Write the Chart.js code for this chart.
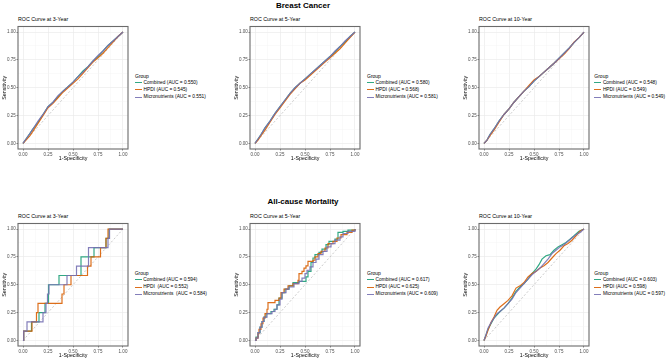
<!DOCTYPE html>
<html><head><meta charset="utf-8">
<script src="https://cdn.jsdelivr.net/npm/chart.js@4.4.1/dist/chart.umd.min.js"></script>
<style>
html,body{margin:0;padding:0;background:#fff;width:669px;height:360px;overflow:hidden;position:relative;font-family:"Liberation Sans",Arial,Helvetica,sans-serif;}
canvas{position:absolute;}
.t{position:absolute;white-space:pre;line-height:1;color:#000;}
.main{font-weight:bold;font-size:8px;transform:translate(-50%,-50%);}
.sub{font-size:5.3px;transform:translateY(-50%);}
.lg{font-size:4.8px;transform:translateY(-50%);}
.lgt{font-size:5px;transform:translateY(-50%);}
.key{position:absolute;height:1.2px;width:7px;}
</style></head><body>
<script>
// ---------- data ----------
const groups = ['Combined', 'HPDI', 'Micronutrients'];
const tickValues = [0, 0.25, 0.5, 0.75, 1];
const tickLabels = ['0.00', '0.25', '0.50', '0.75', '1.00'];
const gridValues = [0, 0.125, 0.25, 0.375, 0.5, 0.625, 0.75, 0.875, 1];
const diagonal = [[0, 0], [1, 1]];

// Breast cancer
const aucBC3 = ['0.550', '0.545', '0.551'];
const aucBC5 = ['0.580', '0.568', '0.581'];
const aucBC10 = ['0.548', '0.549', '0.549'];
// All-cause mortality
const aucAM3 = ['0.594', '0.552', '0.584'];
const aucAM5 = ['0.617', '0.625', '0.609'];
const aucAM10 = ['0.603', '0.598', '0.597'];

const bc3Combined = [[0,0],[0.03,0.04],[0.07,0.09],[0.1,0.13],[0.15,0.19],[0.2,0.26],[0.25,0.33],[0.3,0.37],[0.35,0.42],[0.4,0.47],[0.45,0.51],[0.5,0.55],[0.55,0.6],[0.6,0.65],[0.65,0.69],[0.7,0.74],[0.75,0.78],[0.8,0.83],[0.85,0.88],[0.9,0.92],[0.95,0.96],[1,1]];
const bc3HPDI = [[0,0],[0.03,0.03],[0.07,0.07],[0.1,0.11],[0.15,0.18],[0.2,0.25],[0.25,0.32],[0.3,0.36],[0.35,0.41],[0.4,0.46],[0.45,0.5],[0.5,0.54],[0.55,0.58],[0.6,0.63],[0.65,0.68],[0.7,0.73],[0.75,0.77],[0.8,0.81],[0.85,0.86],[0.9,0.91],[0.95,0.96],[1,1]];
const bc3Micro = [[0,0],[0.03,0.04],[0.07,0.09],[0.1,0.13],[0.15,0.2],[0.2,0.26],[0.25,0.33],[0.3,0.37],[0.35,0.43],[0.4,0.47],[0.45,0.51],[0.5,0.55],[0.55,0.6],[0.6,0.64],[0.65,0.69],[0.7,0.74],[0.75,0.79],[0.8,0.83],[0.85,0.88],[0.9,0.92],[0.95,0.96],[1,1]];

const bc5Combined = [[0,0],[0.03,0.04],[0.06,0.08],[0.1,0.14],[0.15,0.2],[0.2,0.27],[0.25,0.33],[0.3,0.39],[0.35,0.45],[0.4,0.5],[0.45,0.54],[0.5,0.58],[0.55,0.62],[0.6,0.66],[0.65,0.7],[0.7,0.74],[0.75,0.78],[0.8,0.82],[0.85,0.87],[0.9,0.91],[0.95,0.96],[1,1]];
const bc5HPDI = [[0,0],[0.03,0.03],[0.06,0.07],[0.1,0.12],[0.15,0.19],[0.2,0.26],[0.25,0.32],[0.3,0.38],[0.35,0.44],[0.4,0.49],[0.45,0.54],[0.5,0.57],[0.55,0.61],[0.6,0.65],[0.65,0.69],[0.7,0.73],[0.75,0.77],[0.8,0.81],[0.85,0.85],[0.9,0.9],[0.95,0.95],[1,1]];
const bc5Micro = [[0,0],[0.03,0.04],[0.06,0.08],[0.1,0.14],[0.15,0.2],[0.2,0.27],[0.25,0.33],[0.3,0.39],[0.35,0.45],[0.4,0.5],[0.45,0.54],[0.5,0.58],[0.55,0.62],[0.6,0.66],[0.65,0.7],[0.7,0.74],[0.75,0.78],[0.8,0.83],[0.85,0.87],[0.9,0.92],[0.95,0.96],[1,1]];

const bc10Combined = [[0,0],[0.03,0.03],[0.06,0.08],[0.1,0.13],[0.15,0.2],[0.2,0.26],[0.25,0.31],[0.3,0.37],[0.35,0.42],[0.4,0.47],[0.45,0.51],[0.5,0.56],[0.55,0.6],[0.6,0.64],[0.65,0.68],[0.7,0.72],[0.75,0.765],[0.8,0.81],[0.85,0.855],[0.9,0.905],[0.95,0.95],[1,1]];
const bc10HPDI = [[0,0],[0.03,0.03],[0.06,0.07],[0.1,0.12],[0.15,0.19],[0.2,0.26],[0.25,0.31],[0.3,0.37],[0.35,0.42],[0.4,0.47],[0.45,0.52],[0.5,0.57],[0.55,0.6],[0.6,0.64],[0.65,0.68],[0.7,0.72],[0.75,0.76],[0.8,0.8],[0.85,0.85],[0.9,0.91],[0.95,0.95],[1,1]];
const bc10Micro = [[0,0],[0.03,0.03],[0.06,0.08],[0.1,0.13],[0.15,0.2],[0.2,0.26],[0.25,0.31],[0.3,0.37],[0.35,0.42],[0.4,0.47],[0.45,0.51],[0.5,0.56],[0.55,0.6],[0.6,0.64],[0.65,0.68],[0.7,0.72],[0.75,0.765],[0.8,0.81],[0.85,0.855],[0.9,0.905],[0.95,0.95],[1,1]];

const am3Combined = [[0,0],[0.007,0.083],[0.085,0.167],[0.16,0.25],[0.22,0.333],[0.255,0.5],[0.36,0.583],[0.58,0.75],[0.71,0.833],[0.83,0.917],[0.86,1],[1,1]];
const am3HPDI = [[0,0],[0.007,0.083],[0.09,0.167],[0.135,0.25],[0.15,0.333],[0.39,0.417],[0.41,0.5],[0.48,0.583],[0.645,0.667],[0.68,0.75],[0.775,0.833],[0.83,0.917],[0.85,1],[1,1]];
const am3Micro = [[0,0],[0.007,0.083],[0.04,0.167],[0.2,0.25],[0.23,0.333],[0.245,0.417],[0.26,0.5],[0.44,0.583],[0.535,0.667],[0.655,0.833],[0.85,0.917],[0.865,1],[1,1]];

const am5Combined = [[0,0],[0.01,0.03],[0.03,0.07],[0.05,0.12],[0.07,0.17],[0.09,0.21],[0.11,0.24],[0.16,0.26],[0.19,0.28],[0.22,0.32],[0.24,0.38],[0.27,0.43],[0.3,0.46],[0.34,0.49],[0.38,0.52],[0.44,0.53],[0.48,0.53],[0.51,0.57],[0.53,0.62],[0.56,0.7],[0.58,0.74],[0.6,0.77],[0.64,0.79],[0.67,0.82],[0.71,0.86],[0.74,0.89],[0.8,0.91],[0.83,0.97],[0.88,0.98],[0.93,0.99],[1,1]];
const am5HPDI = [[0,0],[0.01,0.02],[0.03,0.06],[0.04,0.1],[0.06,0.15],[0.08,0.2],[0.1,0.24],[0.12,0.28],[0.13,0.34],[0.2,0.36],[0.24,0.38],[0.26,0.43],[0.29,0.46],[0.33,0.49],[0.38,0.51],[0.43,0.54],[0.44,0.6],[0.47,0.62],[0.49,0.65],[0.51,0.67],[0.53,0.71],[0.58,0.72],[0.6,0.75],[0.63,0.78],[0.66,0.8],[0.7,0.83],[0.73,0.87],[0.78,0.89],[0.82,0.92],[0.86,0.95],[0.92,0.97],[0.97,0.99],[1,1]];
const am5Micro = [[0,0],[0.01,0.02],[0.03,0.07],[0.05,0.12],[0.07,0.17],[0.09,0.21],[0.12,0.24],[0.17,0.26],[0.2,0.28],[0.22,0.32],[0.25,0.37],[0.27,0.43],[0.31,0.46],[0.34,0.48],[0.39,0.51],[0.44,0.53],[0.47,0.56],[0.5,0.6],[0.52,0.63],[0.55,0.66],[0.58,0.7],[0.61,0.73],[0.64,0.77],[0.68,0.8],[0.72,0.84],[0.76,0.87],[0.8,0.9],[0.85,0.93],[0.88,0.96],[0.93,0.98],[1,1]];

const am10Combined = [[0,0],[0.02,0.05],[0.04,0.1],[0.07,0.15],[0.1,0.2],[0.13,0.23],[0.16,0.26],[0.2,0.29],[0.24,0.33],[0.28,0.38],[0.32,0.44],[0.36,0.48],[0.4,0.51],[0.44,0.55],[0.48,0.6],[0.52,0.64],[0.55,0.68],[0.58,0.73],[0.62,0.76],[0.66,0.77],[0.7,0.81],[0.74,0.84],[0.78,0.86],[0.82,0.88],[0.86,0.91],[0.9,0.94],[0.95,0.98],[1,1]];
const am10HPDI = [[0,0],[0.02,0.04],[0.04,0.09],[0.07,0.16],[0.1,0.21],[0.13,0.27],[0.16,0.3],[0.2,0.33],[0.24,0.36],[0.28,0.4],[0.32,0.47],[0.36,0.49],[0.4,0.52],[0.44,0.57],[0.48,0.6],[0.52,0.62],[0.56,0.65],[0.6,0.67],[0.64,0.7],[0.68,0.74],[0.72,0.78],[0.76,0.81],[0.8,0.85],[0.84,0.87],[0.88,0.9],[0.92,0.94],[0.96,0.98],[1,1]];
const am10Micro = [[0,0],[0.02,0.05],[0.04,0.11],[0.07,0.16],[0.1,0.2],[0.13,0.24],[0.16,0.26],[0.2,0.29],[0.24,0.33],[0.28,0.37],[0.32,0.43],[0.36,0.47],[0.4,0.51],[0.44,0.55],[0.48,0.59],[0.52,0.62],[0.56,0.65],[0.6,0.69],[0.64,0.73],[0.68,0.78],[0.72,0.81],[0.76,0.84],[0.8,0.86],[0.84,0.89],[0.88,0.92],[0.92,0.95],[0.96,0.97],[1,1]];

// ---------- layout / style ----------
const colors = ['rgba(27,158,119,0.9)', 'rgba(217,95,2,0.9)', 'rgba(117,112,179,0.9)'];
const FAM = '"Liberation Sans", Arial, Helvetica, sans-serif';
Chart.defaults.font.family = FAM;

const panels = [
  {L:18, T:24, title:'ROC Curve at 3-Year', series:[bc3Combined,bc3HPDI,bc3Micro], auc:aucBC3, sep:[' ',' ',' '], stepped:false, gx:135, rowY:[75.8,82.6,89.9,97.1]},
  {L:250, T:24, title:'ROC Curve at 5-Year', series:[bc5Combined,bc5HPDI,bc5Micro], auc:aucBC5, sep:[' ',' ',' '], stepped:false, gx:367, rowY:[75.8,82.6,89.9,97.1]},
  {L:479, T:24, title:'ROC Curve at 10-Year', series:[bc10Combined,bc10HPDI,bc10Micro], auc:aucBC10, sep:[' ',' ',' '], stepped:false, gx:594.3, rowY:[75.8,82.6,89.9,97.1]},
  {L:18, T:221, title:'ROC Curve at 3-Year', series:[am3Combined,am3HPDI,am3Micro], auc:aucAM3, sep:[' ','  ','  '], stepped:true, gx:134.7, rowY:[272.5,279.8,287.1,294.3]},
  {L:250, T:221, title:'ROC Curve at 5-Year', series:[am5Combined,am5HPDI,am5Micro], auc:aucAM5, sep:[' ',' ',' '], stepped:true, gx:367, rowY:[272.5,279.8,287.1,294.3]},
  {L:479, T:221, title:'ROC Curve at 10-Year', series:[am10Combined,am10HPDI,am10Micro], auc:aucAM10, sep:[' ',' ',' '], stepped:false, gx:594.3, rowY:[272.5,279.8,287.1,294.3]}
];
const PW = 110, PH = 125, XH = 14;

function addText(cls, text, x, y) {
  const d = document.createElement('div');
  d.className = 't ' + cls;
  d.textContent = text;
  d.style.left = x + 'px';
  d.style.top = y + 'px';
  document.body.appendChild(d);
  return d;
}

addText('main', 'Breast Cancer', 303, 6);
addText('main', 'All-cause Mortality', 303, 201.5);

const isMajor = v => tickValues.some(m => Math.abs(m - v) < 1e-9);
const labelFor = v => { const i = tickValues.findIndex(m => Math.abs(m - v) < 1e-9); return i >= 0 ? tickLabels[i] : ''; };

const boxPlugin = {
  id: 'panelBox',
  afterDatasetsDraw(chart) {
    const {ctx, chartArea: a} = chart;
    ctx.save();
    ctx.strokeStyle = '#6b6b6b';
    ctx.lineWidth = 1.1;
    ctx.strokeRect(a.left, a.top, a.right - a.left, a.bottom - a.top);
    ctx.restore();
  }
};

function axisOpts(titleText, isX) {
  return {
    type: 'linear', min: -0.05, max: 1.05,
    afterBuildTicks: s => { s.ticks = gridValues.map(v => ({value: v})); },
    afterFit: s => { if (isX) s.height = XH; else s.width = 18; },
    ticks: {autoSkip: false, maxRotation: 0, minRotation: 0, padding: isX ? 1.3 : 0.8,
      font: {size: 4.5, family: FAM}, color: '#4D4D4D', callback: v => labelFor(v)},
    grid: {
      color: c => (c.tick && isMajor(c.tick.value)) ? '#EBEBEB' : '#F4F4F4',
      lineWidth: c => (c.tick && isMajor(c.tick.value)) ? 0.7 : 0.45,
      tickColor: c => (c.tick && isMajor(c.tick.value)) ? '#333333' : 'rgba(0,0,0,0)',
      tickLength: 1.5, tickWidth: 0.6, drawTicks: true
    },
    border: {display: false},
    title: {display: true, text: titleText, color: '#000', font: {size: 5.3, family: FAM},
      padding: isX ? {top: 0, bottom: 0.8} : {top: 1.3, bottom: 0}}
  };
}

panels.forEach(p => {
  const cv = document.createElement('canvas');
  const cw = PW + 18 + 2, ch = PH + 1 + XH;
  cv.width = cw; cv.height = ch;
  cv.style.left = (p.L - 18) + 'px'; cv.style.top = (p.T - 1) + 'px';
  cv.style.width = cw + 'px'; cv.style.height = ch + 'px';
  document.body.appendChild(cv);

  const datasets = p.series.map((s, i) => ({
    label: groups[i],
    data: s.map(q => ({x: q[0], y: q[1]})),
    borderColor: colors[i], backgroundColor: colors[i],
    borderWidth: 1.2, pointRadius: 0, fill: false, tension: 0,
    stepped: p.stepped ? 'before' : false,
    order: 2 - i
  }));
  datasets.push({
    label: 'ref', data: diagonal.map(q => ({x: q[0], y: q[1]})),
    borderColor: '#a6a6a6', borderWidth: 0.6, borderDash: [2, 2],
    pointRadius: 0, fill: false, order: 5
  });

  new Chart(cv, {
    type: 'line',
    data: {datasets},
    options: {
      responsive: false, animation: false, devicePixelRatio: 1,
      layout: {padding: {left: 0, right: 2, top: 1, bottom: 0}},
      plugins: {legend: {display: false}, tooltip: {enabled: false}, title: {display: false}},
      scales: {x: axisOpts('1-Specificity', true), y: axisOpts('Sensitivity', false)}
    },
    plugins: [boxPlugin]
  });

  addText('sub', p.title, p.L, p.T - 3.8);
  addText('lgt', 'Group', p.gx, p.rowY[0]);
  groups.forEach((g, i) => {
    const k = document.createElement('div');
    k.className = 'key';
    k.style.left = p.gx + 'px';
    k.style.top = (p.rowY[i + 1] - 0.6) + 'px';
    k.style.background = colors[i];
    document.body.appendChild(k);
    addText('lg', g + p.sep[i] + '(AUC = ' + p.auc[i] + ')', p.gx + 8.6, p.rowY[i + 1]);
  });
});
</script>
</body></html>
